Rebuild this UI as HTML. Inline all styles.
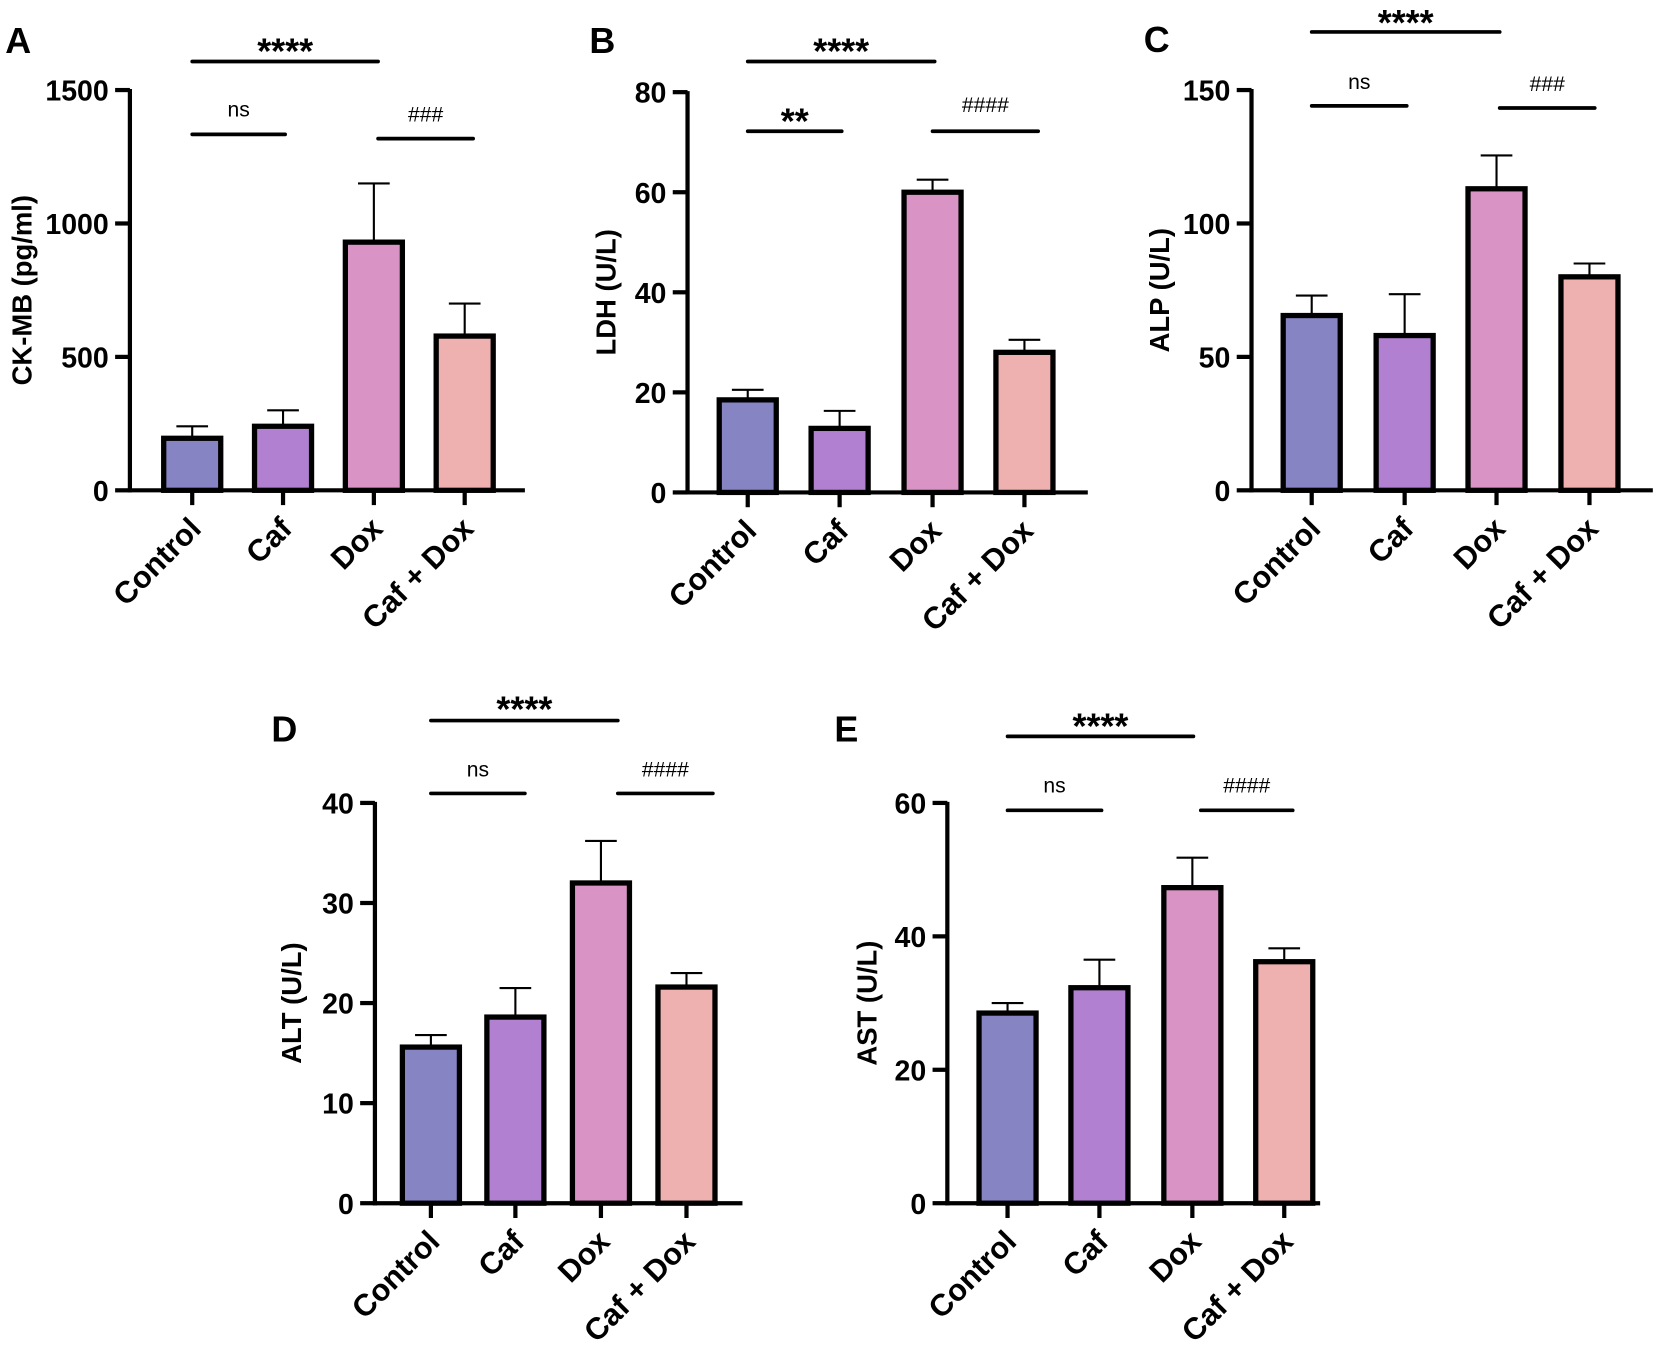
<!DOCTYPE html>
<html><head><meta charset="utf-8">
<style>
html,body{margin:0;padding:0;background:#fff;}
svg{display:block;font-family:"Liberation Sans",Arial,sans-serif;}
</style></head>
<body>
<svg id="fig" width="1656" height="1345" viewBox="0 0 1568 1273" xmlns="http://www.w3.org/2000/svg"></svg>
<script>
const categories = ["Control","Caf","Dox","Caf + Dox"];
const colors = ["#8784c4","#b180d1","#d994c5","#efb0b0"];
const ckmbMeans = [195,240,930,578];
const ckmbErrors = [45,60,220,122];
const ckmbTicks = [0,500,1000,1500];
const ldhMeans = [18.5,12.8,60,28];
const ldhErrors = [2,3.5,2.5,2.5];
const ldhTicks = [0,20,40,60,80];
const alpMeans = [65.5,58,113,80];
const alpErrors = [7.5,15.5,12.5,5];
const alpTicks = [0,50,100,150];
const altMeans = [15.6,18.6,32,21.6];
const altErrors = [1.2,2.9,4.2,1.4];
const altTicks = [0,10,20,30,40];
const astMeans = [28.5,32.3,47.3,36.2];
const astErrors = [1.5,4.2,4.5,2];
const astTicks = [0,20,40,60];

const NS="http://www.w3.org/2000/svg";
const svg=document.getElementById('fig');
function mk(tag,attrs,parent){const e=document.createElementNS(NS,tag);for(const k in attrs)e.setAttribute(k,attrs[k]);(parent||svg).appendChild(e);return e;}

const panels=[
 {id:"a",letter:"A",lx:5,ly:50,title:"CK-MB (pg/ml)",tx:30,ax:123,y0:464,yTop:85,max:1500,cats:[182,268,354,440],xEnd:497,means:ckmbMeans,errs:ckmbErrors,ticks:ckmbTicks,
  sig:[{t:"****",x1:182,x2:358,y:58,ty:48,big:true},{t:"ns",x1:182,x2:270,y:127,ty:110},{t:"###",x1:358,x2:448,y:131,ty:115}]},
 {id:"b",letter:"B",lx:558,ly:50,title:"LDH (U/L)",tx:583,ax:651,y0:466,yTop:87,max:80,cats:[708,795,883,970],xEnd:1030,means:ldhMeans,errs:ldhErrors,ticks:ldhTicks,
  sig:[{t:"****",x1:708,x2:885,y:58,ty:48,big:true},{t:"**",x1:708,x2:797,y:124,ty:114,big:true},{t:"####",x1:883,x2:983,y:124,ty:106}]},
 {id:"c",letter:"C",lx:1083,ly:49,title:"ALP (U/L)",tx:1107,ax:1185,y0:464,yTop:85,max:150,cats:[1242,1330,1417,1505],xEnd:1565,means:alpMeans,errs:alpErrors,ticks:alpTicks,
  sig:[{t:"****",x1:1242,x2:1420,y:30,ty:21,big:true},{t:"ns",x1:1242,x2:1332,y:100,ty:84},{t:"###",x1:1420,x2:1510,y:102,ty:86}]},
 {id:"d",letter:"D",lx:257,ly:702,title:"ALT (U/L)",tx:285,ax:355,y0:1139,yTop:760,max:40,cats:[408,488,569,650],xEnd:703,means:altMeans,errs:altErrors,ticks:altTicks,
  sig:[{t:"****",x1:408,x2:585,y:682,ty:671,big:true},{t:"ns",x1:408,x2:497,y:751,ty:735},{t:"####",x1:585,x2:675,y:751,ty:735}]},
 {id:"e",letter:"E",lx:790,ly:702,title:"AST (U/L)",tx:830,ax:897,y0:1139,yTop:760,max:60,cats:[954,1041,1129,1216],xEnd:1250,means:astMeans,errs:astErrors,ticks:astTicks,
  sig:[{t:"****",x1:954,x2:1130,y:697,ty:687,big:true},{t:"ns",x1:954,x2:1043,y:767,ty:750},{t:"####",x1:1137,x2:1224,y:767,ty:750}]}
];

panels.forEach(p=>{
  const g=mk('g',{});
  
  
  const yS=v=>p.y0-(v/p.max)*(p.y0-p.yTop);
  const L=mk('text',{x:p.lx,y:p.ly,'font-size':34,'font-weight':'bold'},g);L.textContent=p.letter;
  
  
  const cy=(p.y0+p.yTop)/2;
  const T=mk('text',{x:p.tx,y:cy,'font-size':26,'font-weight':'bold','text-anchor':'middle',transform:`rotate(-90 ${p.tx} ${cy})`},g);T.textContent=p.title;
  
  
  const bw=54;
  p.means.forEach((m,i)=>{
    const x=p.cats[i];const top=yS(m);const et=yS(m+p.errs[i]);
    const el=mk('line',{x1:x,x2:x,y1:top,y2:et,stroke:'#000','stroke-width':2},g);
    
    
    const ec=mk('line',{x1:x-15,x2:x+15,y1:et,y2:et,stroke:'#000','stroke-width':2},g);
    
    
    const r=mk('rect',{x:x-bw/2,y:top,width:bw,height:p.y0-top,fill:colors[i],stroke:'#000','stroke-width':5},g);
    
    
  });
  const ya=mk('line',{x1:p.ax,x2:p.ax,y1:p.yTop-1,y2:p.y0+2,stroke:'#000','stroke-width':4},g);
  
  
  const xa=mk('line',{x1:p.ax-2,x2:p.xEnd,y1:p.y0,y2:p.y0,stroke:'#000','stroke-width':4},g);
  
  
  p.ticks.forEach(t=>{
    const y=yS(t);
    mk('line',{x1:p.ax-14,x2:p.ax,y1:y,y2:y,stroke:'#000','stroke-width':4},g);
    const tl=mk('text',{x:p.ax-20,y:y+10,'font-size':27,'font-weight':'bold','text-anchor':'end'},g);tl.textContent=t;
    
    
  });
  p.cats.forEach((x,i)=>{
    mk('line',{x1:x,x2:x,y1:p.y0,y2:p.y0+14,stroke:'#000','stroke-width':4},g);
    const tx=x+10,ty=p.y0+38;
    const cl=mk('text',{x:tx,y:ty,'font-size':29,'font-weight':'bold','text-anchor':'end',transform:`rotate(-45 ${tx} ${ty})`},g);cl.textContent=categories[i];
    
    
  });
  p.sig.forEach(s=>{
    const sl=mk('line',{x1:s.x1,x2:s.x2,y1:s.y,y2:s.y,stroke:'#000','stroke-width':3.5,'stroke-linecap':'round'},g);
    
    
    const st=mk('text',{x:(s.x1+s.x2)/2,y:s.ty+(s.big?12:0),'font-size':s.big?34:20,'font-weight':s.big?'bold':'normal','text-anchor':'middle'},g);st.textContent=s.t;
    
    
  });
});
</script>
</body></html>
